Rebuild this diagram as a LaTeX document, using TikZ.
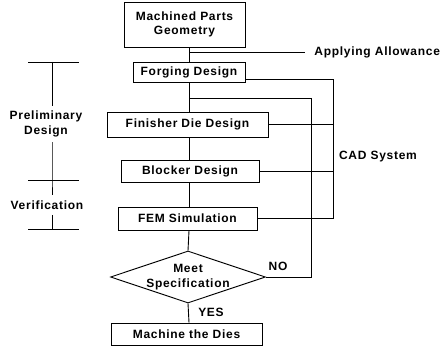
\documentclass[tikz,border=0pt]{standalone}
\usepackage{fontspec}
\newfontfamily\plotfont[LetterSpace=6]{Liberation Sans}
\usetikzlibrary{shapes.geometric, positioning}
\tikzset{
  labeltext/.style={font=\plotfont\bfseries\fontsize{12}{14.4}\selectfont, inner sep=0pt, align=center},
  stepbox/.style={labeltext, rectangle, draw=black},
  decisionbox/.style={diamond, draw=black, inner sep=0pt, minimum width=155pt, minimum height=52pt},
  sidetext/.style={labeltext, inner sep=5pt},
  link/.style={line width=0.9pt}
}
\begin{document}
\begin{tikzpicture}[x=1pt, y=-1pt, line width=0.9pt]
  \useasboundingbox (0,0) rectangle (446,347);
  % main flow
  \node[stepbox, minimum width=121pt, minimum height=45pt] (geom) at (184.5,24.5) {Machined Parts\\Geometry};
  \node[stepbox, minimum width=112pt, minimum height=20pt] (forge) at (189,72) {Forging Design};
  \node[stepbox, minimum width=161pt, minimum height=25pt] (finish) at (187.5,124.5) {Finisher Die Design};
  \node[stepbox, minimum width=138pt, minimum height=22pt] (block) at (190,171) {Blocker Design};
  \node[stepbox, minimum width=139pt, minimum height=23pt] (fem) at (187.5,218.5) {FEM Simulation};
  \node[decisionbox, label={[labeltext]center:Meet\\Specification}] (meet) at (188,277) {};
  \node[stepbox, minimum width=151pt, minimum height=22pt] (mach) at (186.5,334) {Machine the Dies};
  \coordinate (trunk) at (189,0);
  \draw[link] (trunk |- geom.south) -- (trunk |- forge.north);
  \draw[link] (trunk |- forge.south) -- (trunk |- finish.north);
  \draw[link] (trunk |- finish.south) -- (trunk |- block.north);
  \draw[link] (trunk |- block.south) -- (trunk |- fem.north);
  \draw[link] (trunk |- fem.south) -- (meet.north);
  \draw[link] (meet.south) -- (trunk |- mach.north);
  % allowance
  \coordinate (allow) at (189,52);
  \node[labeltext, anchor=west] (allowtxt) at (314,52) {Applying Allowance};
  \draw[link] (allow) -- ([xshift=-9pt]allowtxt.west);
  % CAD system loop
  \coordinate (cadbus) at (333,0);
  \draw[link] ([yshift=3pt]forge.south east) -| (cadbus |- fem.east) -- (fem.east);
  \draw[link] (finish.east) -- (cadbus |- finish.east);
  \draw[link] (block.east) -- (cadbus |- block.east);
  \node[labeltext] (cad) at (378,157) {CAD System};
  % NO loop
  \coordinate (loop) at (189,98);
  \coordinate (nobus) at (311,0);
  \draw[link] (meet.east) -| (nobus |- loop) -- (loop);
  \node[labeltext] (no) at (278,266) {NO};
  \node[labeltext] (yes) at (211,312) {YES};
  % phases
  \coordinate (prtop) at (52,62);
  \coordinate (prmid) at (52,180);
  \coordinate (prbot) at (52,229);
  \node[sidetext] (prelim) at (46,124) {Preliminary\\Design};
  \node[sidetext] (verif) at (47,205) {Verification};
  \foreach \c in {prtop,prmid,prbot}
    \draw[link] ([xshift=-24pt]\c) -- ([xshift=27pt]\c);
  \draw[link] (prtop) -- (prtop |- prelim.north);
  \draw[link] (prtop |- prelim.south) -- (prmid) -- (prmid |- verif.north);
  \draw[link] (prbot |- verif.south) -- (prbot);
\end{tikzpicture}
\end{document}
